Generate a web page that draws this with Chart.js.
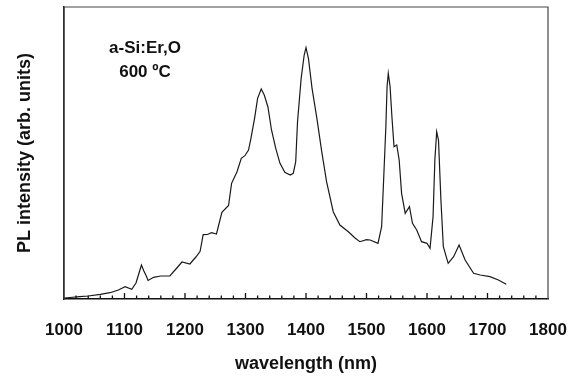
<!DOCTYPE html>
<html>
<head>
<meta charset="utf-8">
<script src="https://cdn.jsdelivr.net/npm/chart.js@4.4.0/dist/chart.umd.min.js"></script>
<style>
html,body{margin:0;padding:0;background:#fff;}
#wrap{width:576px;height:376px;}
</style>
</head>
<body>
<div id="wrap"><canvas id="c" width="576" height="376"></canvas></div>
<script>
const wavelength = [1000,1010,1026,1040,1060,1076,1090,1101,1112,1119,1125,1128,1132,1136,1139,1148,1160,1175,1185,1195,1208,1218,1225,1230,1237,1244,1252,1261,1272,1277,1286,1293,1299,1305,1309,1315,1320,1326,1331,1337,1343,1350,1357,1365,1374,1379,1383,1386,1392,1397,1400,1404,1410,1418,1426,1434,1445,1456,1470,1481,1489,1500,1506,1519,1525,1529,1532,1534,1536,1539,1542,1545.5,1550,1554,1558,1564,1571,1576,1583,1591,1600,1605,1610,1613,1616,1619,1623,1627,1635,1644,1653,1663,1677,1688,1704,1718,1731];
const intensity = [1,1.5,2.3,3,4.7,6.3,9,12.3,9.7,16,28,34,28,23,18.5,21.7,23,23,30,37,35,42,47.7,64.3,64.5,66.3,65,86.7,93.5,115.7,127.3,140.7,143.3,149,160.7,180.7,200.7,210,204,192.3,169,150.7,135.7,126.7,124,125.7,137.3,177.3,220.7,244,251.3,240.7,210.7,180.7,147.3,117.3,87.3,74,67.3,61,57.3,59.3,59,55.7,72.3,129,172.3,212.3,225.7,212.3,182.3,152.3,154,139,105.7,85.7,92.3,75.7,69,57.3,55.7,50.7,82.3,139,167.3,159,99,52.3,35.7,42.3,54,39,25.7,24,22.3,19,14.7];
const xTickLabels = ['1000','1100','1200','1300','1400','1500','1600','1700','1800'];
const labelLines = ['a-Si:Er,O','600 ºC'];
const xTitle = 'wavelength (nm)';
const yTitle = 'PL intensity (arb. units)';

const FONT = "'Liberation Sans', Arial, sans-serif";
const MINOR_STEP = 20;

const boxPlugin = {
  id: 'boxPlugin',
  afterDraw(chart) {
    const ctx = chart.ctx, a = chart.chartArea, xs = chart.scales.x;
    ctx.save();
    ctx.strokeStyle = '#444';
    ctx.lineWidth = 1.2;
    ctx.beginPath();
    ctx.moveTo(a.left, a.bottom);
    ctx.lineTo(a.left, a.top);
    ctx.lineTo(a.right, a.top);
    ctx.lineTo(a.right, a.bottom);
    ctx.stroke();
    ctx.strokeStyle = '#111111';
    ctx.lineWidth = 1.3;
    const n = Math.round((1800 - 1000) / MINOR_STEP);
    ctx.beginPath();
    for (let k = 1; k < n; k++) {
      const v = 1000 + k * MINOR_STEP;
      const px = xs.getPixelForValue(v);
      const len = (k % 5 === 0) ? 6 : 3.5;
      ctx.moveTo(px, a.bottom);
      ctx.lineTo(px, a.bottom - len);
    }
    ctx.stroke();
    ctx.fillStyle = '#111';
    ctx.font = 'bold 17px ' + FONT;
    ctx.textAlign = 'center';
    ctx.textBaseline = 'middle';
    ctx.fillText(labelLines[0], 145, 48);
    ctx.fillText(labelLines[1], 145, 72);
    ctx.restore();
  }
};

new Chart(document.getElementById('c'), {
  type: 'line',
  data: {
    datasets: [{
      data: wavelength.map((w, i) => ({x: w, y: intensity[i]})),
      borderColor: '#1a1a1a',
      borderWidth: 1.2,
      pointRadius: 0,
      tension: 0,
      fill: false
    }]
  },
  options: {
    responsive: false,
    animation: false,
    devicePixelRatio: 1,
    layout: {padding: {top: 7, right: 28, left: 0, bottom: 0}},
    plugins: {legend: {display: false}, tooltip: {enabled: false}},
    scales: {
      x: {
        type: 'linear',
        min: 1000, max: 1800,
        afterFit(s) { s.height = 77; },
        grid: {display: false, drawTicks: true, tickLength: 19},
        border: {display: true, color: '#111', width: 1.5},
        ticks: {
          stepSize: 100,
          autoSkip: false,
          maxRotation: 0,
          padding: 2,
          color: '#111',
          font: {family: FONT, size: 17, weight: 'bold'},
          callback: (v) => xTickLabels[Math.round((v - 1000) / 100)]
        },
        title: {
          display: true,
          text: xTitle,
          color: '#111',
          font: {family: FONT, size: 18, weight: 'bold'},
          padding: {top: 0, bottom: 1}
        }
      },
      y: {
        min: 0, max: 292,
        afterFit(s) { s.width = 64; },
        grid: {display: false, drawTicks: false},
        border: {display: true, color: '#111', width: 1.5},
        ticks: {display: false},
        title: {
          display: true,
          text: yTitle,
          color: '#111',
          font: {family: FONT, size: 18, weight: 'bold'},
          padding: {top: 14, bottom: 0}
        }
      }
    }
  },
  plugins: [boxPlugin]
});
</script>
</body>
</html>
